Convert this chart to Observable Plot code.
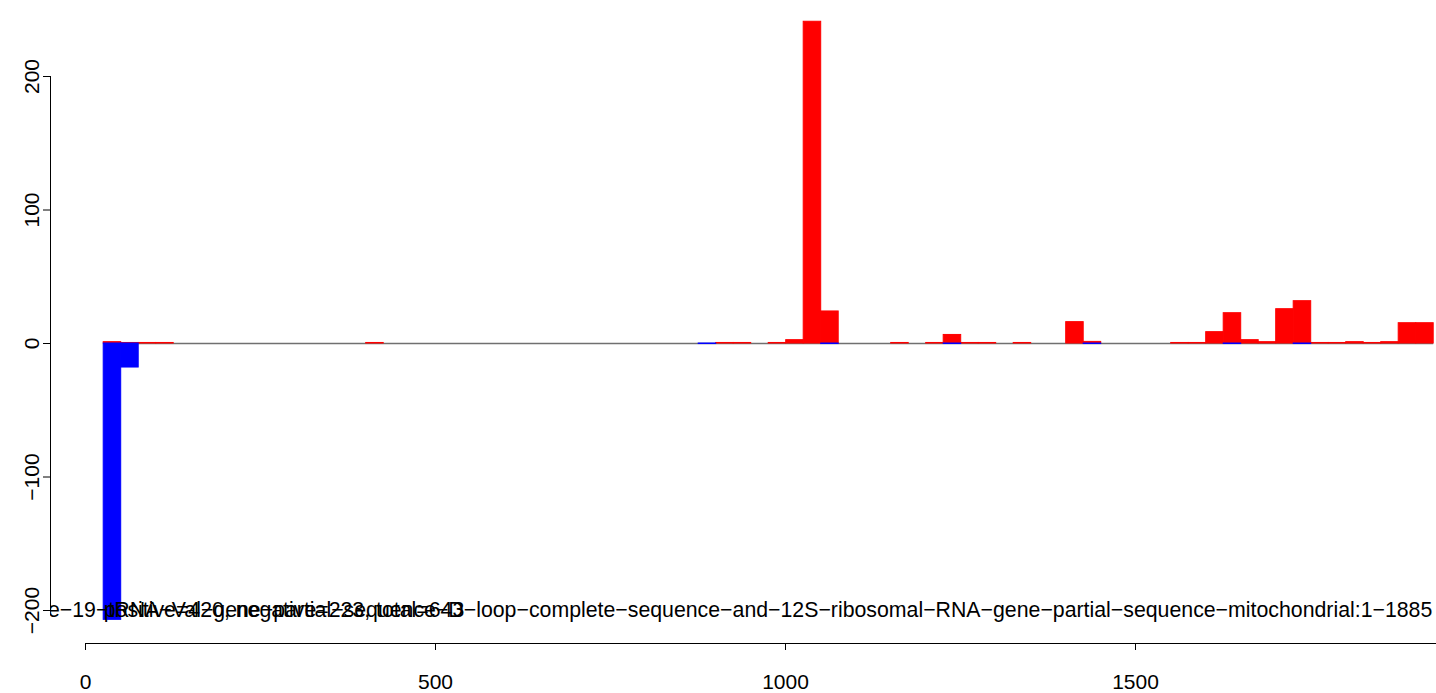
<!DOCTYPE html>
<html>
<head>
<meta charset="utf-8">
<script src="https://cdn.jsdelivr.net/npm/d3@7"></script>
<script src="https://cdn.jsdelivr.net/npm/@observablehq/plot@0.6"></script>
<style>
  html, body { margin: 0; padding: 0; background: #fff; }
  #chart svg { display: block; }
</style>
</head>
<body>
<div id="chart"></div>
<script>
// ---- data (bins of width 25, start positions) ----
const binWidth = 25;
const binStart = [26, 51, 76, 101, 401, 876, 901, 926, 976, 1001, 1026, 1051, 1151, 1201, 1226, 1251, 1276, 1326, 1401, 1426, 1551, 1576, 1601, 1626, 1651, 1676, 1701, 1726, 1751, 1776, 1801, 1826, 1851, 1876, 1901];
const posVal   = [1, 0.4, 0.4, 0.4, 0.4, 0, 0.4, 0.4, 0.4, 2.5, 241, 24, 0.4, 0.4, 6.4, 0.4, 0.4, 0.4, 16, 1.2, 0.4, 0.4, 8.5, 22.7, 2.5, 1, 25.7, 31.7, 0.4, 0.4, 1, 0.4, 1, 15.2, 15.2];
const negVal   = [-207, -18, 0, 0, 0, -0.4, 0, 0, 0, 0, 0, -0.4, 0, 0, -0.4, 0, 0, 0, 0, -0.4, 0, 0, 0, -0.4, 0, 0, 0, -0.4, 0, 0, 0, 0, 0, 0, 0];
const baselineRange = [26, 1926];

const xTicks = [0, 500, 1000, 1500];
const yTicks = [-200, -100, 0, 100, 200];

const statLabel = "positive=420, negative=223, total=643";
const statX = 26, statY = -200;
const nameLabel = "e-19-tRNA-Val-gene-partial-sequence-D-loop-complete-sequence-and-12S-ribosomal-RNA-gene-partial-sequence-mitochondrial:1-1885";
const nameX = 1924, nameY = -200;

// ---- build rows ----
const rows = binStart.map((s, i) => ({start: s, end: s + binWidth, pos: posVal[i], neg: negVal[i]}));
const posRows = rows.filter(d => d.pos !== 0);
const negRows = rows.filter(d => d.neg !== 0);
const minus = s => String(s).replace(/-/g, "\u2212");

const font = "'Liberation Sans', Arial, Helvetica, sans-serif";

const chart = Plot.plot({
  width: 1436,
  height: 693,
  marginLeft: 50,
  marginRight: 0,
  marginTop: 0,
  marginBottom: 50,
  style: {fontFamily: font, fontSize: "21px", color: "#000", background: "#fff"},
  x: {domain: [0, 1500], range: [85, 1135], axis: null},
  y: {domain: [-200, 200], range: [610, 76], axis: null},
  marks: [
    // zero baseline
    Plot.ruleY([0], {x1: baselineRange[0], x2: baselineRange[1], stroke: "#707070", strokeWidth: 1.5}),
    // positive bars
    Plot.rectY(posRows, {x1: "start", x2: "end", y: "pos", fill: "#ff0000", stroke: "#ff0000", strokeWidth: 1}),
    // negative bars
    Plot.rectY(negRows, {x1: "start", x2: "end", y: "neg", fill: "#0000ff", stroke: "#0000ff", strokeWidth: 1}),
    // labels
    Plot.text([nameLabel], {x: () => nameX, y: () => nameY, text: d => minus(d), textAnchor: "end", lineAnchor: "middle", fontSize: 21.3, fill: "#000", clip: true}),
    Plot.text([statLabel], {x: () => statX, y: () => statY, text: d => d, textAnchor: "start", lineAnchor: "middle", fontSize: 21.3, fill: "#000"}),
    // x axis
    Plot.frame({anchor: "bottom", insetLeft: 35, insetRight: 1, stroke: "#000", strokeWidth: 1}),
    Plot.axisX({ticks: xTicks, tickSize: 7, tickPadding: 24, tickFormat: d => String(d), fontSize: 21, label: null, stroke: "#000"}),
    // y axis
    Plot.frame({anchor: "left", insetTop: 76, insetBottom: 33, stroke: "#000", strokeWidth: 1}),
    Plot.axisY({ticks: yTicks, tickSize: 7, tickFormat: () => "", label: null, stroke: "#000"}),
    Plot.text(yTicks, {y: d => d, frameAnchor: "left", text: d => minus(d), rotate: -90, dx: -18, textAnchor: "middle", lineAnchor: "middle", fontSize: 21, fill: "#000"})
  ]
});
document.getElementById("chart").appendChild(chart);
</script>
</body>
</html>
